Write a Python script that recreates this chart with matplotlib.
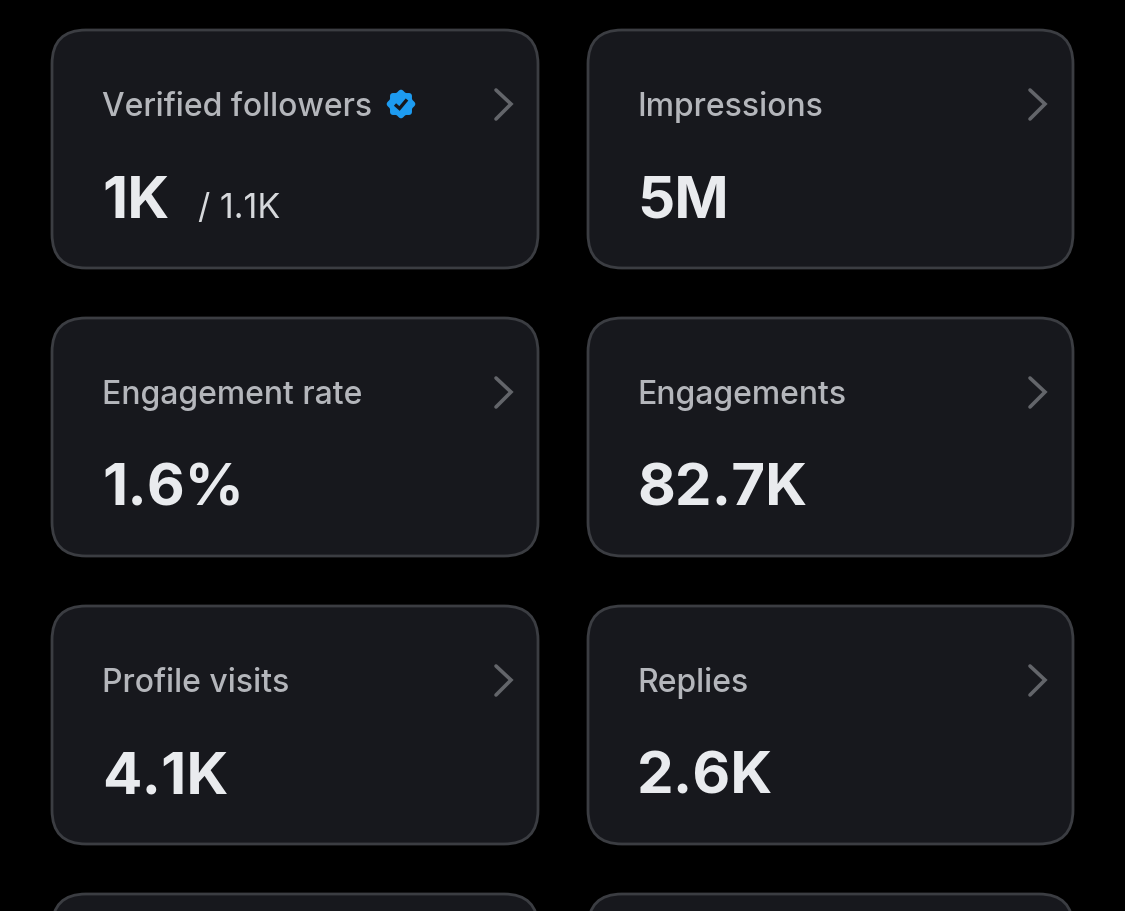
import numpy as np
from matplotlib import pyplot as plt
from matplotlib.patches import FancyBboxPatch, Polygon

plt.rcParams['font.family'] = ['Inter', 'DejaVu Sans']

labels = ['Verified followers', 'Impressions', 'Engagement rate', 'Engagements',
          'Profile visits', 'Replies']
values = ['1K', '5M', '1.6%', '82.7K', '4.1K', '2.6K']
total_text = '/ 1.1K'

W, H = 1125, 911
BG = '#000000'
CARD = '#17181d'
EDGE = '#3b3d42'
LABEL = '#b4b6bb'
TOTAL = '#d6d8db'
VALUE = '#e9ebee'
CHEVRON = '#63656a'
BLUE = '#1d9bf0'

COL_X = [52, 588]
COL_W = [486, 485]
TEXT_X = [102, 637]
CHEVRON_X = [496, 1030]
ROW_Y = [30, 318, 606, 894]
CARD_H = 238
RADIUS = 34


def draw_card(ax, x, y, w):
    box = FancyBboxPatch((x + RADIUS, y + RADIUS), w - 2 * RADIUS, CARD_H - 2 * RADIUS,
                         boxstyle='round,pad=%d,rounding_size=%d' % (RADIUS, RADIUS),
                         fc=CARD, ec=EDGE, lw=2.0)
    ax.add_patch(box)


def draw_chevron(ax, x, y):
    ax.plot([x, x + 15, x], [y + 60, y + 74, y + 89], color=CHEVRON,
            lw=2.6, solid_capstyle='round', solid_joinstyle='miter')


def draw_badge(ax, cx, cy):
    # scalloped verified badge
    t = np.linspace(0, 2 * np.pi, 240)
    r = 13.2 + 1.1 * np.cos(8 * t)
    ax.add_patch(Polygon(np.column_stack([cx + r * np.cos(t), cy + r * np.sin(t)]),
                         fc=BLUE, ec='none'))
    ax.plot([cx - 6, cx - 1.5, cx + 6], [cy + 0.5, cy + 4.5, cy - 4.5], color=CARD,
            lw=2.4, solid_capstyle='butt', solid_joinstyle='miter')


def main():
    fig = plt.figure(figsize=(W / 100, H / 100), dpi=100, facecolor=BG)
    ax = fig.add_axes([0, 0, 1, 1])
    ax.set_xlim(0, W)
    ax.set_ylim(H, 0)
    ax.axis('off')

    for row, y in enumerate(ROW_Y):
        for col, x in enumerate(COL_X):
            draw_card(ax, x, y, COL_W[col])
            i = row * 2 + col
            if i >= len(labels):
                continue
            draw_chevron(ax, CHEVRON_X[col], y)
            ax.text(TEXT_X[col], y + 86, labels[i], color=LABEL, fontsize=23,
                    fontweight='medium', va='baseline', ha='left')
            ax.text(TEXT_X[col], y + 188, values[i], color=VALUE, fontsize=42,
                    fontweight='bold', va='baseline', ha='left')

    ax.text(198, 218, total_text, color=TOTAL, fontsize=24.6, va='baseline', ha='left')
    draw_badge(ax, 401, 104)

    fig.savefig('out.png', dpi=100, facecolor=BG)
    plt.close(fig)


if __name__ == '__main__':
    main()
